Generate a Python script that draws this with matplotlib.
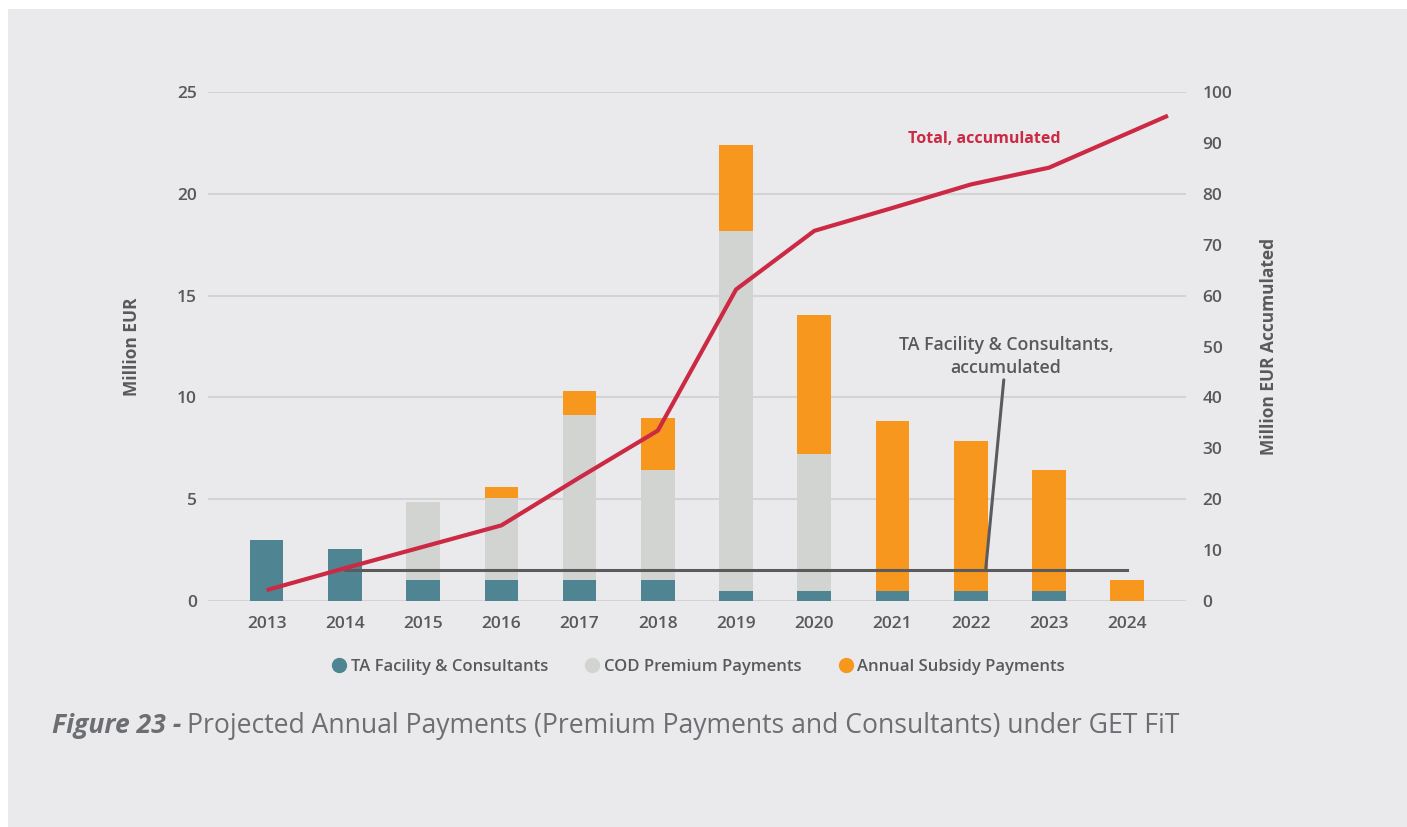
"""
Projected annual payments (premium payments and consultants) under GET FiT:
stacked annual bars on the left axis, accumulated totals on the right axis.
"""

import matplotlib.pyplot as plt
import numpy as np
from matplotlib.lines import Line2D
from matplotlib.patches import Rectangle

plt.rcParams["font.family"] = ["Open Sans", "DejaVu Sans"]

YEARS = ["2013", "2014", "2015", "2016", "2017", "2018",
         "2019", "2020", "2021", "2022", "2023", "2024"]
TA_FACILITY = [3.0, 2.55, 1.05, 1.05, 1.05, 1.05, 0.5, 0.5, 0.5, 0.5, 0.5, 0.0]
COD_PREMIUM = [0.0, 0.0, 3.82, 4.02, 8.09, 5.39, 17.67, 6.74, 0.0, 0.0, 0.0, 0.0]
ANNUAL_SUBSIDY = [0.0, 0.0, 0.0, 0.54, 1.18, 2.55, 4.2, 6.81, 8.35, 7.37, 5.94, 1.05]

# accumulated series (right axis)
TOTAL_ACC = [2.2, 6.5, 10.7, 14.9, 24.3, 33.5, 61.2, 72.7, 77.2, 81.8, 85.1, 95.3]
TA_ACC = [np.nan, 6.2, 6.2, 6.2, 6.2, 6.2, 6.2, 6.2, 6.2, 6.2, 6.2, 6.2]

C_TA = "#4F8593"
C_COD = "#D2D4D2"
C_SUB = "#F7971E"
C_TOTAL = "#CC2944"
C_TALINE = "#5B5B5D"
C_TEXT = "#58595B"
C_BG = "#EAEAEC"
C_GRID = "#D3D3D6"

fig = plt.figure(figsize=(14.07, 8.27), dpi=100, facecolor="white")
fig.patches.append(Rectangle((8 / 1407, 0), 1, 1 - 9 / 827, transform=fig.transFigure,
                             facecolor=C_BG, edgecolor="none", zorder=-10))

ax = fig.add_axes([0.1478, 0.2729, 0.6951, 0.6162])
ax.set_facecolor("none")
x = np.arange(len(YEARS))
w = 0.43

ta = np.array(TA_FACILITY)
cod = np.array(COD_PREMIUM)
sub = np.array(ANNUAL_SUBSIDY)
ax.bar(x, ta, w, color=C_TA, zorder=2)
ax.bar(x, cod, w, bottom=ta, color=C_COD, zorder=2)
ax.bar(x, sub, w, bottom=ta + cod, color=C_SUB, zorder=2)

ax.set_xlim(-0.75, len(YEARS) - 0.25)
ax.set_ylim(0, 25)
ax.set_yticks(range(0, 26, 5))
ax.set_xticks(x)
ax.set_xticklabels(YEARS)
ax.grid(axis="y", color=C_GRID, linewidth=1.5, zorder=0)
ax.set_axisbelow(True)
for s in ax.spines.values():
    s.set_visible(False)
ax.tick_params(length=0, labelsize=12.5, colors=C_TEXT)
ax.tick_params(axis="x", pad=10.5)
ax.tick_params(axis="y", pad=8)
for lab in ax.get_xticklabels() + ax.get_yticklabels():
    lab.set_fontweight("semibold")
ax.set_ylabel("Million EUR", fontsize=12.5, fontweight="bold", color=C_TEXT, labelpad=26)

ax2 = ax.twinx()
ax2.set_ylim(0, 100)
ax2.set_yticks(range(0, 101, 10))
for s in ax2.spines.values():
    s.set_visible(False)
ax2.tick_params(length=0, labelsize=12.5, colors=C_TEXT, pad=12)
for lab in ax2.get_yticklabels():
    lab.set_fontweight("semibold")
ax2.set_ylabel("Million EUR Accumulated", fontsize=12.5, fontweight="bold",
               color=C_TEXT, labelpad=20)

# TA accumulated line plus its leader to the label
ax2.plot(x, TA_ACC, color=C_TALINE, linewidth=2.2, zorder=3)
ax2.annotate("TA Facility & Consultants,\naccumulated", xy=(9.19, TA_ACC[-1]),
             xytext=(9.45, 44.0), ha="center", va="bottom", fontsize=12.8,
             fontweight="semibold", color=C_TEXT, linespacing=1.35,
             arrowprops=dict(arrowstyle="-", color=C_TALINE, linewidth=2.2,
                             shrinkA=0, shrinkB=0))

# total accumulated; last point closes at the end of 2024
x_total = x.astype(float)
x_total[-1] = x[-1] + 0.52
ax2.plot(x_total, TOTAL_ACC, color=C_TOTAL, linewidth=3.0, zorder=4,
         solid_capstyle="butt")
ax2.text(9.17, 90.8, "Total, accumulated", ha="center", va="center", fontsize=11.5,
         fontweight="bold", color=C_TOTAL)

handles = [
    Line2D([], [], marker="o", linestyle="none", markersize=10, color=C_TA),
    Line2D([], [], marker="o", linestyle="none", markersize=10, color=C_COD),
    Line2D([], [], marker="o", linestyle="none", markersize=10, color=C_SUB),
]
leg = fig.legend(handles, ["TA Facility & Consultants", "COD Premium Payments",
                           "Annual Subsidy Payments"],
                 loc="center", bbox_to_anchor=(698 / 1407, 1 - 667 / 827), ncol=3,
                 frameon=False, fontsize=12, handletextpad=0.2, columnspacing=2.15,
                 handlelength=1.0)
for t in leg.get_texts():
    t.set_color(C_TEXT)
    t.set_fontweight("semibold")

# caption
fig.canvas.draw()
cap1 = fig.text(52 / 1407, 1 - 726 / 827, "Figure 23 -", fontsize=19.1,
                fontweight="bold", fontstyle="italic", color="#6D6E71", va="center")
bb = cap1.get_window_extent(renderer=fig.canvas.get_renderer())
fig.text((bb.x1 + 6) / 1407, 1 - 726 / 827,
         "Projected Annual Payments (Premium Payments and Consultants) under GET FiT",
         fontsize=19.1, color="#6D6E71", va="center")

fig.savefig("out.png", dpi=100, facecolor=fig.get_facecolor())
